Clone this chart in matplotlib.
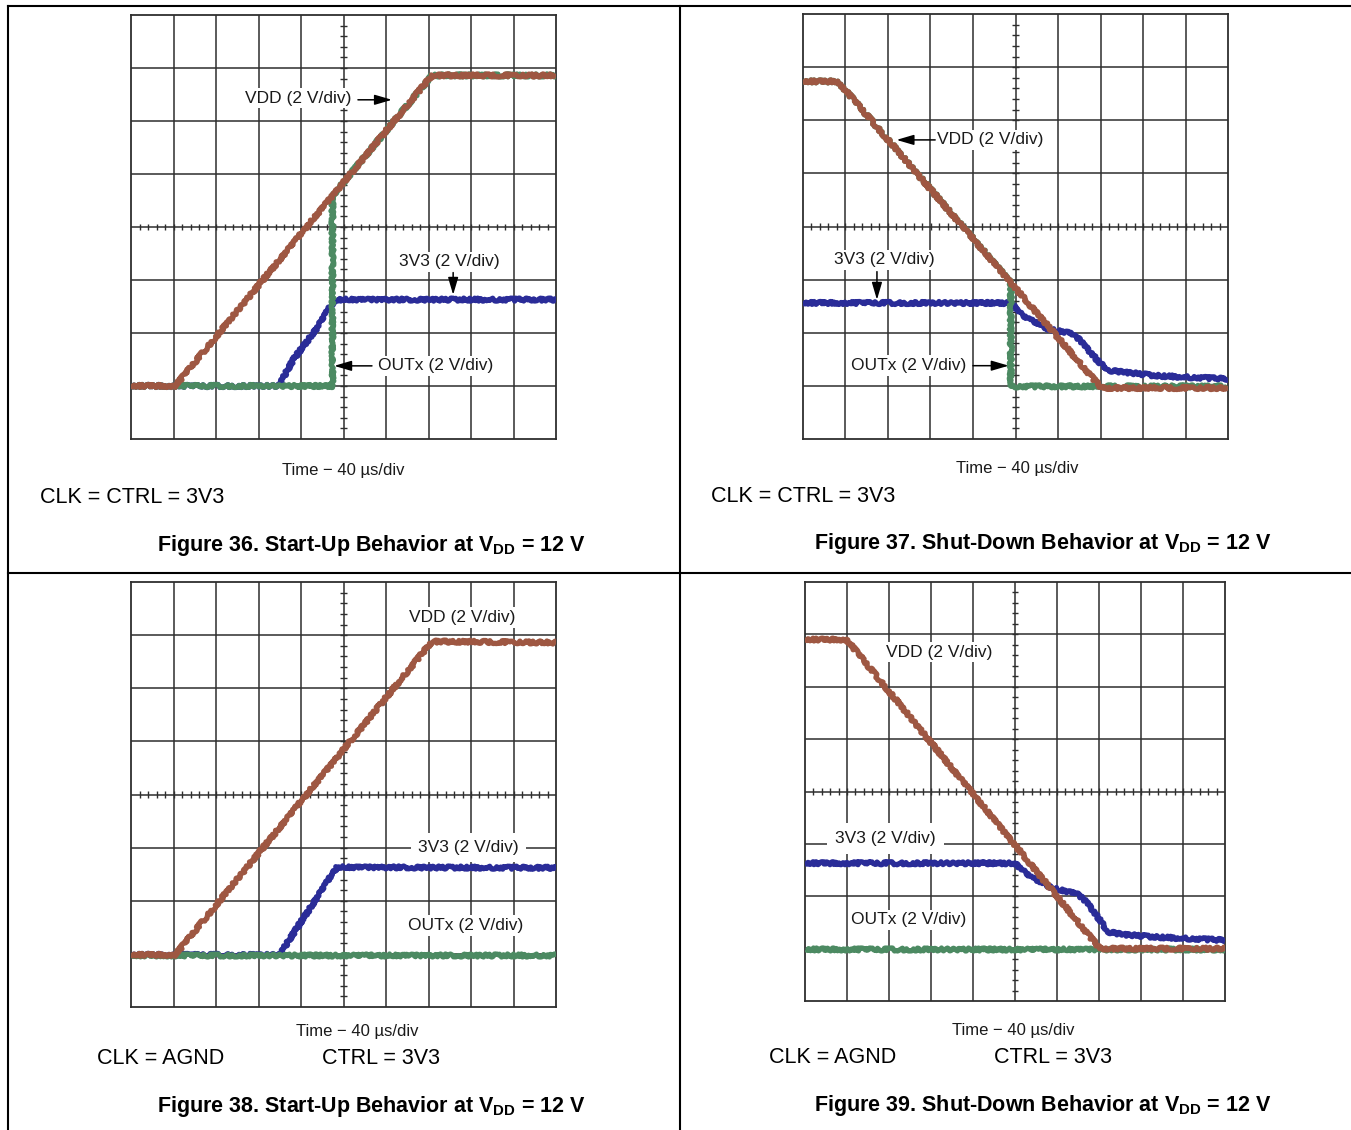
"""
Start-up / shut-down scope captures, VDD = 12 V (Figures 36-39)
"""

import numpy as np
import matplotlib
matplotlib.use("Agg")
import matplotlib.pyplot as plt
from matplotlib.lines import Line2D

W, H = 1351, 1130

plt.rcParams['font.family'] = ['Liberation Sans', 'DejaVu Sans']
plt.rcParams['mathtext.fontset'] = 'custom'
plt.rcParams['mathtext.rm'] = 'Liberation Sans'
plt.rcParams['mathtext.bf'] = 'Liberation Sans:bold'

# trace data in screen divisions (x: 0..10, y: 0..8)
# Figure 36
f36_vdd_x = [0, 1.04, 7.08, 10]
f36_vdd_y = [1.0, 1.0, 6.86, 6.86]
f36_out_x = [0, 4.74, 4.74, 7.08, 10]
f36_out_y = [1.0, 1.0, 4.59, 6.86, 6.86]
f36_3v3_x = [0, 3.47, 3.82, 4.37, 4.69, 4.78, 4.84, 10]
f36_3v3_y = [1.0, 1.0, 1.5, 2.09, 2.5, 2.55, 2.63, 2.63]

# Figure 37
f37_vdd_x = [0, 0.82, 7.02, 10]
f37_vdd_y = [6.73, 6.73, 0.96, 0.96]
f37_out_x = [0, 0.82, 4.89, 4.89, 10]
f37_out_y = [6.73, 6.73, 2.95, 0.99, 0.99]
f37_3v3_x = [0, 4.9, 5.18, 5.8, 6.27, 6.51, 6.98, 7.22, 8.31, 10]
f37_3v3_y = [2.56, 2.56, 2.31, 2.06, 2.0, 1.87, 1.43, 1.29, 1.19, 1.13]

# Figure 38
f38_vdd_x = [0, 1.04, 7.08, 10]
f38_vdd_y = [0.98, 0.98, 6.88, 6.86]
f38_out_x = [0, 10]
f38_out_y = [0.98, 0.98]
f38_3v3_x = [0, 3.49, 4.84, 10]
f38_3v3_y = [0.98, 0.98, 2.63, 2.62]

# Figure 39
f39_vdd_x = [0, 0.99, 7.02, 10]
f39_vdd_y = [6.9, 6.9, 1.0, 1.0]
f39_out_x = [0, 10]
f39_out_y = [1.0, 1.0]
f39_3v3_x = [0, 5.0, 5.36, 5.91, 6.47, 6.71, 7.22, 7.58, 8.37, 10]
f39_3v3_y = [2.63, 2.63, 2.37, 2.15, 2.05, 1.89, 1.32, 1.27, 1.22, 1.16]

fig_numbers = [36, 37, 38, 39]
fig_titles = ["Start-Up", "Shut-Down", "Start-Up", "Shut-Down"]
cond_left = ["CLK = CTRL = 3V3", "CLK = CTRL = 3V3", "CLK = AGND", "CLK = AGND"]
cond_right = ["", "", "CTRL = 3V3", "CTRL = 3V3"]
time_label = "Time \u2212 40 \u00b5s/div"

C_VDD = '#9e5742'
C_3V3 = '#2a2c98'
C_OUT = '#4c8a62'
C_GRID = '#2e2e2e'


def px_axes(left, top, right, bottom):
    return [left / W, 1 - bottom / H, (right - left) / W, (bottom - top) / H]


def fx(px):
    return px / W


def fy(py):
    return 1 - py / H


def draw_scope(ax, traces, labels):
    ax.set_xlim(0, 10)
    ax.set_ylim(0, 8)
    ax.set_xticks([])
    ax.set_yticks([])
    for s in ax.spines.values():
        s.set_color(C_GRID)
        s.set_linewidth(1.3)
    for i in range(1, 10):
        ax.axvline(i, color=C_GRID, lw=1.1, zorder=1)
    for j in range(1, 8):
        ax.axhline(j, color=C_GRID, lw=1.1, zorder=1)
    # minor ticks on centre lines
    minor = np.arange(0.2, 10, 0.2)
    ax.vlines(minor, 4 - 0.06, 4 + 0.06, color=C_GRID, lw=1.0, zorder=1)
    minor_y = np.arange(0.2, 8, 0.2)
    ax.hlines(minor_y, 5 - 0.075, 5 + 0.075, color=C_GRID, lw=1.0, zorder=1)

    for (x, y, c, z) in traces:
        ln, = ax.plot(x, y, color=c, lw=3.8, zorder=z, solid_capstyle='butt',
                      solid_joinstyle='round')
        ln.set_sketch_params(scale=1.5, length=4, randomness=6)

    for lab in labels:
        txt, tx, ty = lab[0], lab[1], lab[2]
        pad = lab[4] if len(lab) > 4 else 2
        ax.text(tx, ty, txt, ha='center', va='center', fontsize=12.5, color='#1a1a1a',
                zorder=6, bbox=dict(facecolor='white', edgecolor='none', pad=pad))
        arrow = lab[3]
        if arrow is not None:
            (x0, y0), (x1, y1) = arrow
            ax.annotate('', xy=(x1, y1), xytext=(x0, y0),
                        arrowprops=dict(arrowstyle='-|>,head_length=0.75,head_width=0.22',
                                        color='black', lw=1.1, shrinkA=0, shrinkB=0,
                                        mutation_scale=14),
                        zorder=7)


fig = plt.figure(figsize=(W / 100, H / 100), dpi=100)

# table rules
frame = fig.add_axes([0, 0, 1, 1])
frame.set_xlim(0, W)
frame.set_ylim(H, 0)
frame.axis('off')
frame.add_line(Line2D([8, W], [6, 6], color='black', lw=1.5))
frame.add_line(Line2D([8, W], [573, 573], color='black', lw=1.5))
frame.add_line(Line2D([8, 8], [6, H], color='black', lw=1.5))
frame.add_line(Line2D([680, 680], [6, H], color='black', lw=1.5))

ax36 = fig.add_axes(px_axes(131, 15, 556, 439))
draw_scope(ax36,
           [(f36_3v3_x, f36_3v3_y, C_3V3, 3), (f36_out_x, f36_out_y, C_OUT, 4),
            (f36_vdd_x, f36_vdd_y, C_VDD, 5)],
           [("VDD (2 V/div)", 3.93, 6.43, ((5.34, 6.4), (6.14, 6.4))),
            ("3V3 (2 V/div)", 7.48, 3.34, ((7.58, 3.14), (7.58, 2.72))),
            ("OUTx (2 V/div)", 7.17, 1.38, ((5.67, 1.38), (4.78, 1.38)))])

ax37 = fig.add_axes(px_axes(803, 14, 1228, 439))
draw_scope(ax37,
           [(f37_3v3_x, f37_3v3_y, C_3V3, 3), (f37_out_x, f37_out_y, C_OUT, 4),
            (f37_vdd_x, f37_vdd_y, C_VDD, 5)],
           [("VDD (2 V/div)", 4.4, 5.63, ((3.11, 5.63), (2.2, 5.63))),
            ("3V3 (2 V/div)", 1.92, 3.37, ((1.74, 3.15), (1.74, 2.62))),
            ("OUTx (2 V/div)", 2.48, 1.38, ((4.0, 1.38), (4.84, 1.38)))])

ax38 = fig.add_axes(px_axes(131, 582, 556, 1007))
draw_scope(ax38,
           [(f38_3v3_x, f38_3v3_y, C_3V3, 3), (f38_out_x, f38_out_y, C_OUT, 4),
            (f38_vdd_x, f38_vdd_y, C_VDD, 5)],
           [("VDD (2 V/div)", 7.79, 7.33, None),
            ("3V3 (2 V/div)", 7.94, 3.01, None, 5),
            ("OUTx (2 V/div)", 7.88, 1.53, None)])

ax39 = fig.add_axes(px_axes(805, 582, 1225, 1001))
draw_scope(ax39,
           [(f39_3v3_x, f39_3v3_y, C_3V3, 3), (f39_out_x, f39_out_y, C_OUT, 4),
            (f39_vdd_x, f39_vdd_y, C_VDD, 5)],
           [("VDD (2 V/div)", 3.2, 6.66, None),
            ("3V3 (2 V/div)", 1.92, 3.1, None, 6),
            ("OUTx (2 V/div)", 2.46, 1.55, None)])

# captions under each scope
time_pos = [(343, 475), (1017, 473), (357, 1036), (1013, 1035)]
cond_pos = [(40, 503), (711, 502), (97, 1064), (769, 1063)]
cond2_pos = [None, None, (322, 1064), (994, 1063)]
title_pos = [(371, 551), (1043, 549), (371, 1112), (1043, 1111)]

for i in range(4):
    tx, ty = time_pos[i]
    fig.text(fx(tx), fy(ty), time_label, ha='center', va='baseline', fontsize=12, color='#1a1a1a')
    cx, cy = cond_pos[i]
    fig.text(fx(cx), fy(cy), cond_left[i], ha='left', va='baseline', fontsize=15.5, color='black')
    if cond2_pos[i] is not None:
        cx, cy = cond2_pos[i]
        fig.text(fx(cx), fy(cy), cond_right[i], ha='left', va='baseline', fontsize=15.5, color='black')
    bx, by = title_pos[i]
    title = "Figure %d. %s Behavior at V$_{\\mathbf{DD}}$ = 12 V" % (fig_numbers[i], fig_titles[i])
    fig.text(fx(bx), fy(by), title, ha='center', va='baseline', fontsize=15.5,
             fontweight='bold', color='black')

fig.savefig("out.png", dpi=100)
